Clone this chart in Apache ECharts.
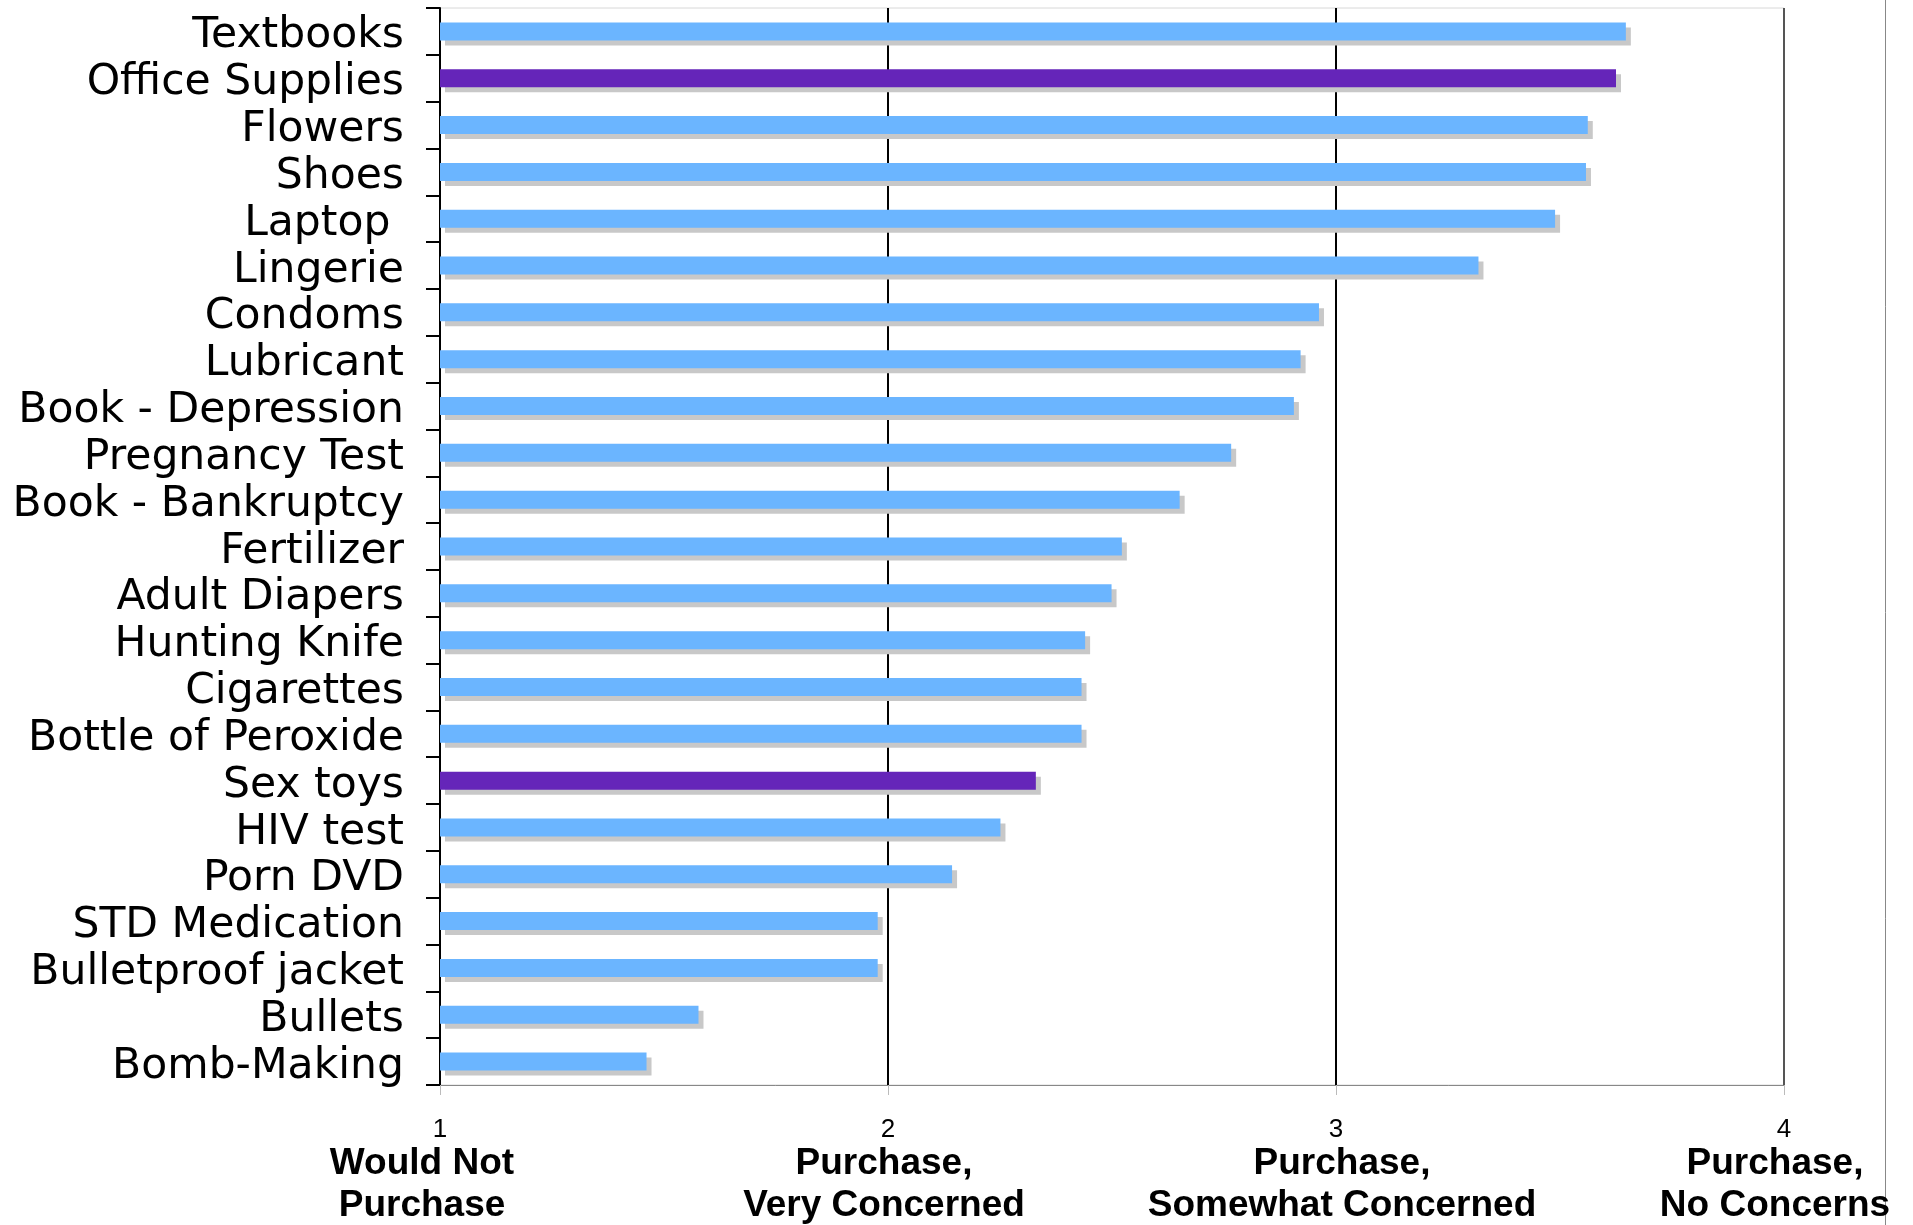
<!DOCTYPE html>
<html>
<head>
<meta charset="utf-8">
<script src="https://cdn.jsdelivr.net/npm/echarts@6/dist/echarts.min.js"></script>
<style>
html,body{margin:0;padding:0;background:#fff;}
#chart{width:1913px;height:1225px;}
</style>
</head>
<body>
<div id="chart"></div>
<script>
const categories = ['Textbooks','Office Supplies','Flowers','Shoes','Laptop ','Lingerie','Condoms','Lubricant','Book - Depression','Pregnancy Test','Book - Bankruptcy','Fertilizer','Adult Diapers','Hunting Knife','Cigarettes','Bottle of Peroxide','Sex toys','HIV test','Porn DVD','STD Medication','Bulletproof jacket','Bullets','Bomb-Making'];
const values = [3.647,3.625,3.562,3.558,3.489,3.318,2.962,2.921,2.906,2.766,2.651,2.522,2.499,2.440,2.432,2.432,2.330,2.251,2.143,1.977,1.977,1.577,1.461];
const highlighted = ['Office Supplies','Sex toys'];
const tickValues = [1,2,3,4];
const tickTexts = [['Would Not','Purchase'],['Purchase,','Very Concerned'],['Purchase,','Somewhat Concerned'],['Purchase,','No Concerns']];

const BLUE = '#6bb5ff';
const PURPLE = '#6525b9';
// horizontal nudge (px) of the bold descriptive labels relative to their tick
const labelShift = [-18, -4, 6, -9];

const rich = {
  n:{fontFamily:'Liberation Sans, Arial',fontSize:26,lineHeight:26,color:'#000'}
};
labelShift.forEach((s,i)=>{
  rich['b'+i] = {
    fontFamily:'Liberation Sans, Arial',fontSize:37,fontWeight:'bold',lineHeight:42,color:'#000',
    padding: s < 0 ? [0, -2*s, 0, 0] : [0, 0, 0, 2*s]
  };
});

const chart = echarts.init(document.getElementById('chart'), null, {renderer:'canvas'});
chart.setOption({
  animation:false,
  backgroundColor:'#fff',
  grid:{left:440,right:129,top:8,bottom:140,show:true,borderColor:'#d8d8d8',borderWidth:1,backgroundColor:'transparent'},
  xAxis:{
    type:'value',min:1,max:4,interval:1,
    axisLine:{show:true,lineStyle:{color:'#888',width:1}},
    axisTick:{show:true,length:10,lineStyle:{color:'#bbb',width:1}},
    splitLine:{show:true,lineStyle:{color:['rgba(0,0,0,0)','#000','#000','#555'],width:2}},
    axisLabel:{
      margin:32,
      formatter:function(v){
        const i = tickValues.indexOf(v);
        if(i<0) return '';
        return '{n|'+v+'}\n{b'+i+'|'+tickTexts[i][0]+'}\n{b'+i+'|'+tickTexts[i][1]+'}';
      },
      rich:rich
    }
  },
  yAxis:{
    type:'category',inverse:true,data:categories,
    axisLine:{show:true,lineStyle:{color:'#000',width:2}},
    axisTick:{show:true,length:14,lineStyle:{color:'#000',width:2}},
    splitLine:{show:false},
    axisLabel:{
      interval:0,margin:36,
      formatter:function(v){ return '{c|'+v+'}'; },
      rich:{c:{fontFamily:'DejaVu Sans',fontSize:42.5,color:'#000',padding:[10,0,0,0]}}
    }
  },
  series:[{
    type:'bar',
    barWidth:18,
    clip:true,
    data:values.map((v,i)=>({value:v,itemStyle:{color: highlighted.includes(categories[i]) ? PURPLE : BLUE}})),
    itemStyle:{shadowColor:'#c8c8c8',shadowOffsetX:5,shadowOffsetY:5,shadowBlur:0}
  }],
  graphic:[{type:'line',shape:{x1:1885.5,y1:0,x2:1885.5,y2:1225},style:{stroke:'#888',lineWidth:1},silent:true}]
});
</script>
</body>
</html>
